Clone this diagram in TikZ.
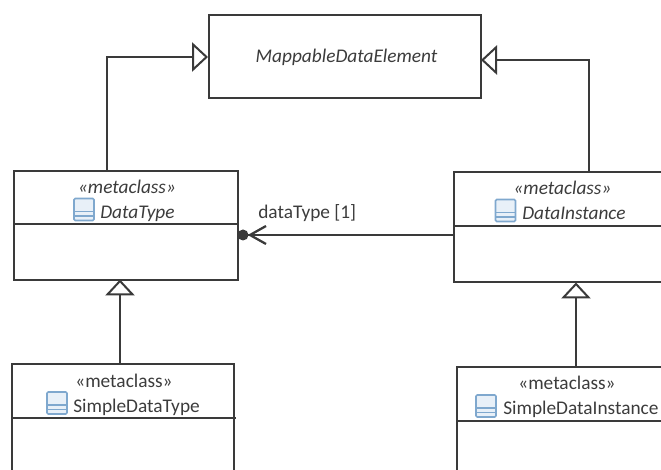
\documentclass[tikz,border=0pt]{standalone}
\usepackage{fontspec}
\setmainfont{Carlito}
\usetikzlibrary{arrows.meta,calc}
\definecolor{ln}{HTML}{3A3A3A}
\definecolor{ic}{HTML}{7FA8CE}
\definecolor{icf}{HTML}{E8F0F8}
\definecolor{tx}{HTML}{3C3C3C}
\tikzset{
 x=0.75pt,y=-0.75pt,
 boxst/.style={draw=ln,line width=1.7pt,fill=white,inner sep=0pt,rectangle},
 conn/.style={draw=ln,line width=1.7pt},
 gen/.style={conn,-{Triangle[open,fill=white,length=12pt,width=22pt,line width=1.5pt]}},
 lab/.style={inner sep=0pt,text=tx,font=\fontsize{14.5pt}{16pt}\selectfont},
 labit/.style={inner sep=0pt,text=tx,font=\fontsize{14.5pt}{16pt}\selectfont\itshape},
}
\newcommand{\umlicon}[1]{%
 \draw[draw=ic,fill=icf,line width=1.2pt,rounded corners=1pt] ($(#1)+(-10,-11)$) rectangle ($(#1)+(10,11)$);
 \draw[draw=ic,line width=1.2pt] ($(#1)+(-10,2)$) -- ($(#1)+(10,2)$) ($(#1)+(-10,6.5)$) -- ($(#1)+(10,6.5)$);
}
\begin{document}
\begin{tikzpicture}
\useasboundingbox (0,0) rectangle (661,470);
% boxes
\node[boxst,anchor=north west,minimum width=272*0.75pt,minimum height=83*0.75pt] (mde) at (208,14) {};
\node[labit,anchor=base] (mdet) at (346.5,63) {MappableDataElement};

\node[boxst,anchor=north west,minimum width=224*0.75pt,minimum height=109*0.75pt] (dt) at (13,170) {};
\coordinate (dtl) at (13,224); \coordinate (dtr) at (238,224);
\draw[conn] (dtl) -- (dtr);
\node[labit,anchor=base] (dts) at (127,194) {«metaclass»};
\coordinate (dti) at (84,209.5); \umlicon{dti}
\node[labit,anchor=base west] (dtt) at (100,219) {DataType};

\draw[conn] (661,172) -- (454,172) -- (454,282) -- (661,282);
\coordinate (dil) at (454,226); \coordinate (dir) at (661,226);
\draw[conn] (dil) -- (dir);
\node[labit,anchor=base] (dis) at (562.5,195) {«metaclass»};
\coordinate (dii) at (505.5,210.5); \umlicon{dii}
\node[labit,anchor=base west] (dit) at (522,220) {DataInstance};

\draw[conn] (12,470) -- (12,364) -- (234,364) -- (234,470);
\coordinate (sdl) at (12,418); \coordinate (sdr) at (236,418);
\draw[conn] (sdl) -- (sdr);
\node[lab,anchor=base] (sds) at (124,388) {«metaclass»};
\coordinate (sdi) at (57,403); \umlicon{sdi}
\node[lab,anchor=base west] (sdt) at (73,413) {SimpleDataType};

\draw[conn] (457,470) -- (457,367) -- (661,367);
\coordinate (sil) at (457,421); \coordinate (sir) at (661,421);
\draw[conn] (sil) -- (sir);
\node[lab,anchor=base] (sis) at (567,390) {«metaclass»};
\coordinate (sii) at (486,406); \umlicon{sii}
\node[lab,anchor=base west] (sit) at (503,415) {SimpleDataInstance};

% connectors
\coordinate (dtt1) at (107,170); \coordinate (c1) at (107,57);
\coordinate (mdl) at (208,57);
\draw[gen] (dtt1) -- (c1) -- (mdl);
\coordinate (dit1) at (589,172); \coordinate (c2) at (589,60);
\coordinate (mdr) at (481,60);
\draw[gen] (dit1) -- (c2) -- (mdr);
\coordinate (sdt1) at (120,364); \coordinate (dtb) at (120,279.5);
\draw[gen] (sdt1) -- (dtb);
\coordinate (sit1) at (576,367); \coordinate (dib) at (576,282.5);
\draw[gen] (sit1) -- (dib);
% association
\coordinate (ae) at (454,235); \coordinate (as) at (243,235); \coordinate (at) at (250,235);
\draw[conn] (ae) -- (as);
\draw[conn] (266,226) -- (at) -- (266,244);
\fill[ln] (as) circle (5.5);
\node[lab,anchor=base west] (atl) at (258,219) {dataType [1]};
\end{tikzpicture}
\end{document}
